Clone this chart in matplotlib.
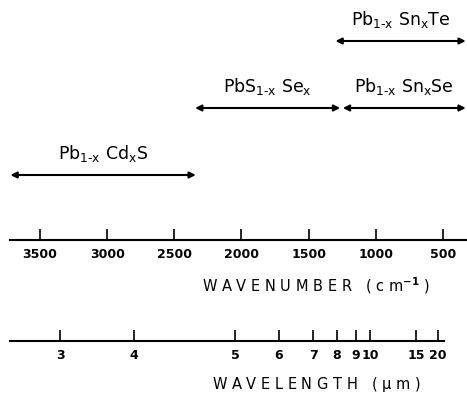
import matplotlib.pyplot as plt

plt.rcParams['font.family'] = 'DejaVu Sans'
plt.rcParams['mathtext.default'] = 'regular'

# alloy ranges in wavenumber (cm^-1): start, end
alloys = [r'Pb$_{1\text{-}x}$ Cd$_x$S',
          r'PbS$_{1\text{-}x}$ Se$_x$',
          r'Pb$_{1\text{-}x}$ Sn$_x$Se',
          r'Pb$_{1\text{-}x}$ Sn$_x$Te']
range_start = [3720, 2345, 1245, 1300]
range_end = [2340, 1265, 330, 330]
row_y = [175, 108, 108, 41]  # pixel rows of the arrows

wavenumber_ticks = [3500, 3000, 2500, 2000, 1500, 1000, 500]
wavelength_ticks = [3, 4, 5, 6, 7, 8, 9, 10, 15, 20]
# where the original figure puts the wavelength ticks (cm^-1 scale)
wavelength_tick_nu = [3350, 2800, 2045, 1720, 1467, 1290, 1147, 1043, 700, 536]

W, H = 467, 393
fig = plt.figure(figsize=(W / 100, H / 100), dpi=100)


def px_to_nu(x):
    # horizontal pixel -> wavenumber, linear scale
    return 3500 - (x - 40) / 0.1343


# arrows and labels on a full-figure overlay
ax = fig.add_axes([0, 0, 1, 1])
ax.set_xlim(px_to_nu(0), px_to_nu(W))
ax.set_ylim(H, 0)
ax.axis('off')
for name, a, b, y in zip(alloys, range_start, range_end, row_y):
    ax.annotate('', xy=(b, y), xytext=(a, y),
                arrowprops=dict(arrowstyle='<|-|>', lw=1.5, color='black',
                                mutation_scale=9, shrinkA=0, shrinkB=0))
    ax.text((a + b) / 2, y - 11, name, ha='center', va='bottom', fontsize=12.5)

# wavenumber axis
ah = 0.1
y1 = 1 - 240 / H
ax1 = fig.add_axes([10 / W, y1, (466 - 10) / W, ah])
ax1.set_xlim(px_to_nu(10), px_to_nu(466))
ax1.set_xticks(wavenumber_ticks)
ax1.set_xticklabels([str(t) for t in wavenumber_ticks], fontweight='bold', fontsize=9)
ax1.tick_params(axis='x', direction='in', length=8, width=1.2, pad=6)
ax1.set_yticks([])
for s in ['top', 'left', 'right']:
    ax1.spines[s].set_visible(False)
ax1.spines['bottom'].set_linewidth(1.5)
ax1.patch.set_alpha(0)
ax1.set_xlabel('W A V E N U M B E R   ( c m$^{\\mathbf{-1}}$ )', fontsize=10.5)
ax1.xaxis.set_label_coords((316 - 10) / 456, -(275 - 240) / (ah * H))

# wavelength axis
y2 = 1 - 341 / H
ax2 = fig.add_axes([10 / W, y2, (444 - 10) / W, ah])
ax2.set_xlim(px_to_nu(10), px_to_nu(444))
ax2.set_xticks(wavelength_tick_nu)
ax2.set_xticklabels([str(w) for w in wavelength_ticks], fontweight='bold', fontsize=9)
ax2.tick_params(axis='x', direction='in', length=8, width=1.2, pad=6)
ax2.set_yticks([])
for s in ['top', 'left', 'right']:
    ax2.spines[s].set_visible(False)
ax2.spines['bottom'].set_linewidth(1.5)
ax2.patch.set_alpha(0)
ax2.set_xlabel('W A V E L E N G T H   ( $\\mu$ m )', fontsize=10.5)
ax2.xaxis.set_label_coords((316 - 10) / 434, -(375 - 341) / (ah * H))

fig.savefig('out.png', dpi=100)
